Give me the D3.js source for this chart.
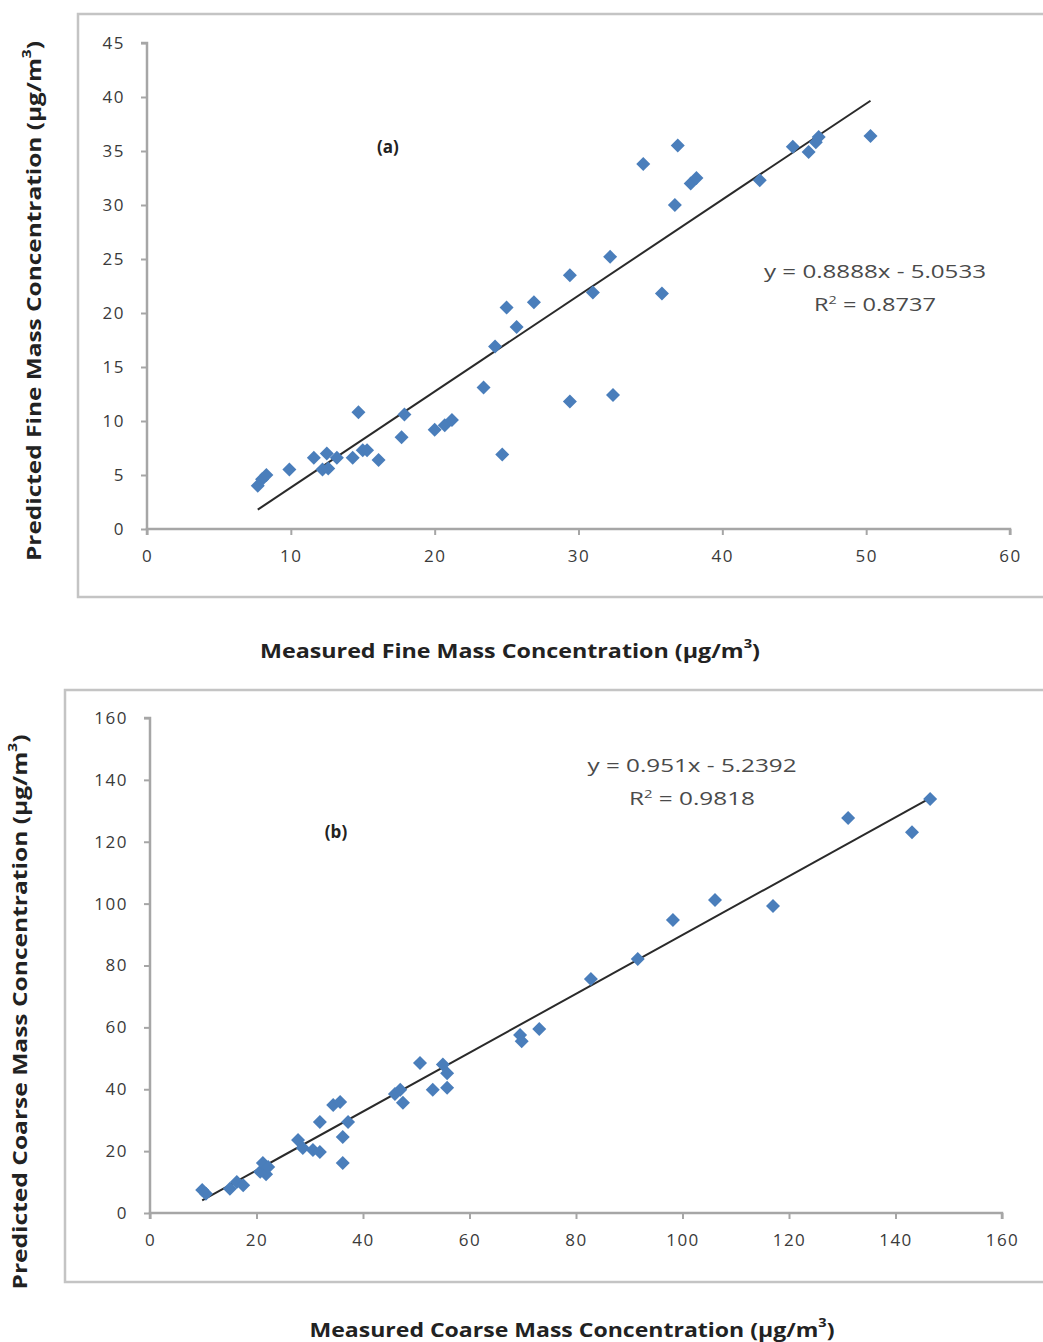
<!DOCTYPE html>
<html>
<head>
<meta charset="utf-8">
<script src="https://cdn.jsdelivr.net/npm/d3@7"></script>
<style>
  body { margin: 0; background: #fff; }
  svg text { font-family: "Open Sans", "Noto Sans", sans-serif; }
</style>
</head>
<body>
<div class="diagram"></div>
<script>
// panel (a): fine mass, measured vs predicted
let fineMeasured  = [7.7, 8.0, 8.3, 9.9, 11.6, 12.2, 12.5, 12.6, 13.2, 14.3, 14.7, 15.0, 15.3, 16.1, 17.7, 17.9,
                     20.0, 20.7, 21.2, 23.4, 24.2, 24.7, 25.0, 25.7, 26.9, 29.4, 29.4, 31.0, 32.2, 32.4,
                     34.5, 35.8, 36.7, 36.9, 37.8, 38.2, 42.6, 44.9, 46.0, 46.5, 46.7, 50.3];
let finePredicted = [4.0, 4.6, 5.0, 5.5, 6.6, 5.5, 7.0, 5.6, 6.6, 6.6, 10.8, 7.3, 7.3, 6.4, 8.5, 10.6,
                     9.2, 9.6, 10.1, 13.1, 16.9, 6.9, 20.5, 18.7, 21.0, 23.5, 11.8, 21.9, 25.2, 12.4,
                     33.8, 21.8, 30.0, 35.5, 32.0, 32.5, 32.3, 35.4, 34.9, 35.8, 36.3, 36.4];
let fineXTicks = [0, 10, 20, 30, 40, 50, 60];
let fineYTicks = [0, 5, 10, 15, 20, 25, 30, 35, 40, 45];
let fineFit = {slope: 0.8888, intercept: -5.0533, r2: "0.8737"};

// panel (b): coarse mass
let coarseMeasured  = [9.8, 10.5, 15.0, 16.3, 17.5, 20.7, 21.2, 21.8, 22.2, 27.8, 28.7, 30.6, 31.9, 31.9,
                       34.4, 35.7, 36.2, 36.2, 37.2, 46.0, 47.0, 47.5, 50.7, 53.1, 55.0, 55.8, 55.8,
                       69.5, 69.8, 73.1, 82.8, 91.6, 98.2, 106.1, 117.0, 131.1, 143.1, 146.5];
let coarsePredicted = [7.4, 6.2, 7.8, 10.0, 9.0, 13.3, 16.2, 12.5, 14.9, 23.6, 21.0, 20.4, 19.7, 29.4,
                       34.9, 35.9, 24.6, 16.2, 29.4, 38.5, 39.8, 35.6, 48.5, 39.8, 48.0, 45.2, 40.5,
                       57.5, 55.5, 59.5, 75.6, 82.1, 94.7, 101.2, 99.2, 127.7, 123.1, 133.8];
let coarseXTicks = [0, 20, 40, 60, 80, 100, 120, 140, 160];
let coarseYTicks = [0, 20, 40, 60, 80, 100, 120, 140, 160];
let coarseFit = {slope: 0.951, intercept: -5.2392, r2: "0.9818"};

var W = 1043, H = 1342;
var markerColor = "#4a7ebb";
var axisColor = "#a6a6a6";

let svg = d3.select('.diagram')
    .append('svg')
    .attr('width', W)
    .attr('height', H);

function drawPanel(cfg) {
    let g = svg.append('g');

    // outer chart frame (runs off the right edge)
    g.append('rect')
        .attr('x', cfg.frame[0])
        .attr('y', cfg.frame[1])
        .attr('width', 1100)
        .attr('height', cfg.frame[2] - cfg.frame[1])
        .attr('fill', 'none')
        .attr('stroke', '#c4c4c4')
        .attr('stroke-width', 2.5);

    let x = d3.scaleLinear().domain(cfg.xDomain).range(cfg.xRange);
    let y = d3.scaleLinear().domain(cfg.yDomain).range(cfg.yRange);

    let xAxis = d3.axisBottom(x).tickValues(cfg.xTicks).tickSize(6).tickPadding(15);
    let yAxis = d3.axisLeft(y).tickValues(cfg.yTicks).tickSize(6).tickPadding(16);

    let ga = g.append('g')
        .attr('transform', 'translate(0,' + cfg.yRange[0] + ')')
        .call(xAxis);
    let gy = g.append('g')
        .attr('transform', 'translate(' + cfg.xRange[0] + ',0)')
        .call(yAxis);
    [ga, gy].forEach(a => {
        a.select('.domain').attr('stroke', axisColor).attr('stroke-width', 2.5);
        a.selectAll('.tick line').attr('stroke', axisColor).attr('stroke-width', 2);
        a.selectAll('.tick text')
            .attr('fill', '#3a3a3a')
            .style('font-size', '17px')
            .style('letter-spacing', '1.5px')
            .style('font-family', '"Open Sans", sans-serif');
    });
    gy.select('.domain').attr('d', 'M-6,' + cfg.yRange[1] + 'H0V' + cfg.yRange[0]);
    ga.select('.domain').attr('d', 'M' + cfg.xRange[0] + ',6V0H' + cfg.xRange[1] + 'V6');

    // trend line over the measured range
    let xs = d3.extent(cfg.mx);
    g.append('line')
        .attr('x1', x(xs[0]))
        .attr('y1', y(cfg.fit.slope * xs[0] + cfg.fit.intercept))
        .attr('x2', x(xs[1]))
        .attr('y2', y(cfg.fit.slope * xs[1] + cfg.fit.intercept))
        .attr('stroke', '#2a2a2a')
        .attr('stroke-width', 2);

    let sym = d3.symbol().type(d3.symbolDiamond2).size(125);
    cfg.mx.forEach((v, i) => {
        g.append('path')
            .attr('d', sym)
            .attr('transform', 'translate(' + x(v) + ',' + y(cfg.py[i]) + ')')
            .attr('fill', markerColor);
    });

    // equation
    g.append('text')
        .attr('x', cfg.eqPos[0] - cfg.eqLen[0] / 2)
        .attr('y', cfg.eqPos[1])
        .attr('fill', '#4a4a4a')
        .attr('textLength', cfg.eqLen[0])
        .attr('lengthAdjust', 'spacingAndGlyphs')
        .style('font-size', '18px')
        .text('y = ' + cfg.fit.slope + 'x - ' + Math.abs(cfg.fit.intercept));
    let r2 = g.append('text')
        .attr('x', cfg.eqPos[0] - cfg.eqLen[1] / 2)
        .attr('y', cfg.eqPos[1] + 33)
        .attr('fill', '#4a4a4a')
        .attr('textLength', cfg.eqLen[1])
        .attr('lengthAdjust', 'spacingAndGlyphs')
        .style('font-size', '18px');
    r2.append('tspan').text('R');
    r2.append('tspan').text('2').attr('dy', -7).style('font-size', '11px');
    r2.append('tspan').text(' = ' + cfg.fit.r2).attr('dy', 7);

    g.append('text')
        .attr('x', cfg.labelPos[0])
        .attr('y', cfg.labelPos[1])
        .attr('text-anchor', 'middle')
        .attr('fill', '#222')
        .style('font-size', '17px')
        .style('font-weight', 'bold')
        .text(cfg.label);

    // axis titles, stretched to the widths in the original
    let xt = g.append('text')
        .attr('x', cfg.xTitlePos[0] - cfg.xTitleLen / 2)
        .attr('y', cfg.xTitlePos[1])
        .attr('fill', '#222')
        .attr('textLength', cfg.xTitleLen)
        .attr('lengthAdjust', 'spacingAndGlyphs')
        .style('font-size', '19px')
        .style('font-weight', 'bold');
    xt.append('tspan').text(cfg.xTitle + ' (\u03bcg/m');
    xt.append('tspan').text('3').attr('dy', -10).style('font-size', '12px');
    xt.append('tspan').text(')').attr('dy', 10);

    let yt = g.append('text')
        .attr('transform', 'translate(' + cfg.yTitlePos[0] + ',' + cfg.yTitlePos[1] + ') rotate(-90)')
        .attr('x', -cfg.yTitleLen / 2)
        .attr('fill', '#222')
        .attr('textLength', cfg.yTitleLen)
        .attr('lengthAdjust', 'spacingAndGlyphs')
        .style('font-size', '19px')
        .style('font-weight', 'bold');
    yt.append('tspan').text(cfg.yTitle + '  (\u03bcg/m');
    yt.append('tspan').text('3').attr('dy', -10).style('font-size', '12px');
    yt.append('tspan').text(')').attr('dy', 10);
}

drawPanel({
    frame: [78, 14, 597],
    xDomain: [0, 60], xRange: [147, 1010],
    yDomain: [0, 45], yRange: [529, 43],
    xTicks: fineXTicks, yTicks: fineYTicks,
    mx: fineMeasured, py: finePredicted, fit: fineFit,
    eqPos: [875, 278], eqLen: [222, 122], labelPos: [388, 153], label: '(a)',
    xTitle: 'Measured Fine  Mass Concentration', xTitlePos: [510, 658], xTitleLen: 500,
    yTitle: 'Predicted Fine  Mass Concentration', yTitlePos: [41, 301], yTitleLen: 520
});

drawPanel({
    frame: [65, 690, 1282],
    xDomain: [0, 160], xRange: [150, 1002],
    yDomain: [0, 160], yRange: [1213, 718],
    xTicks: coarseXTicks, yTicks: coarseYTicks,
    mx: coarseMeasured, py: coarsePredicted, fit: coarseFit,
    eqPos: [692, 772], eqLen: [209, 126], labelPos: [336, 838], label: '(b)',
    xTitle: 'Measured Coarse Mass Concentration', xTitlePos: [572, 1337], xTitleLen: 525,
    yTitle: 'Predicted Coarse Mass Concentration', yTitlePos: [27, 1012], yTitleLen: 555
});
</script>
</body>
</html>
